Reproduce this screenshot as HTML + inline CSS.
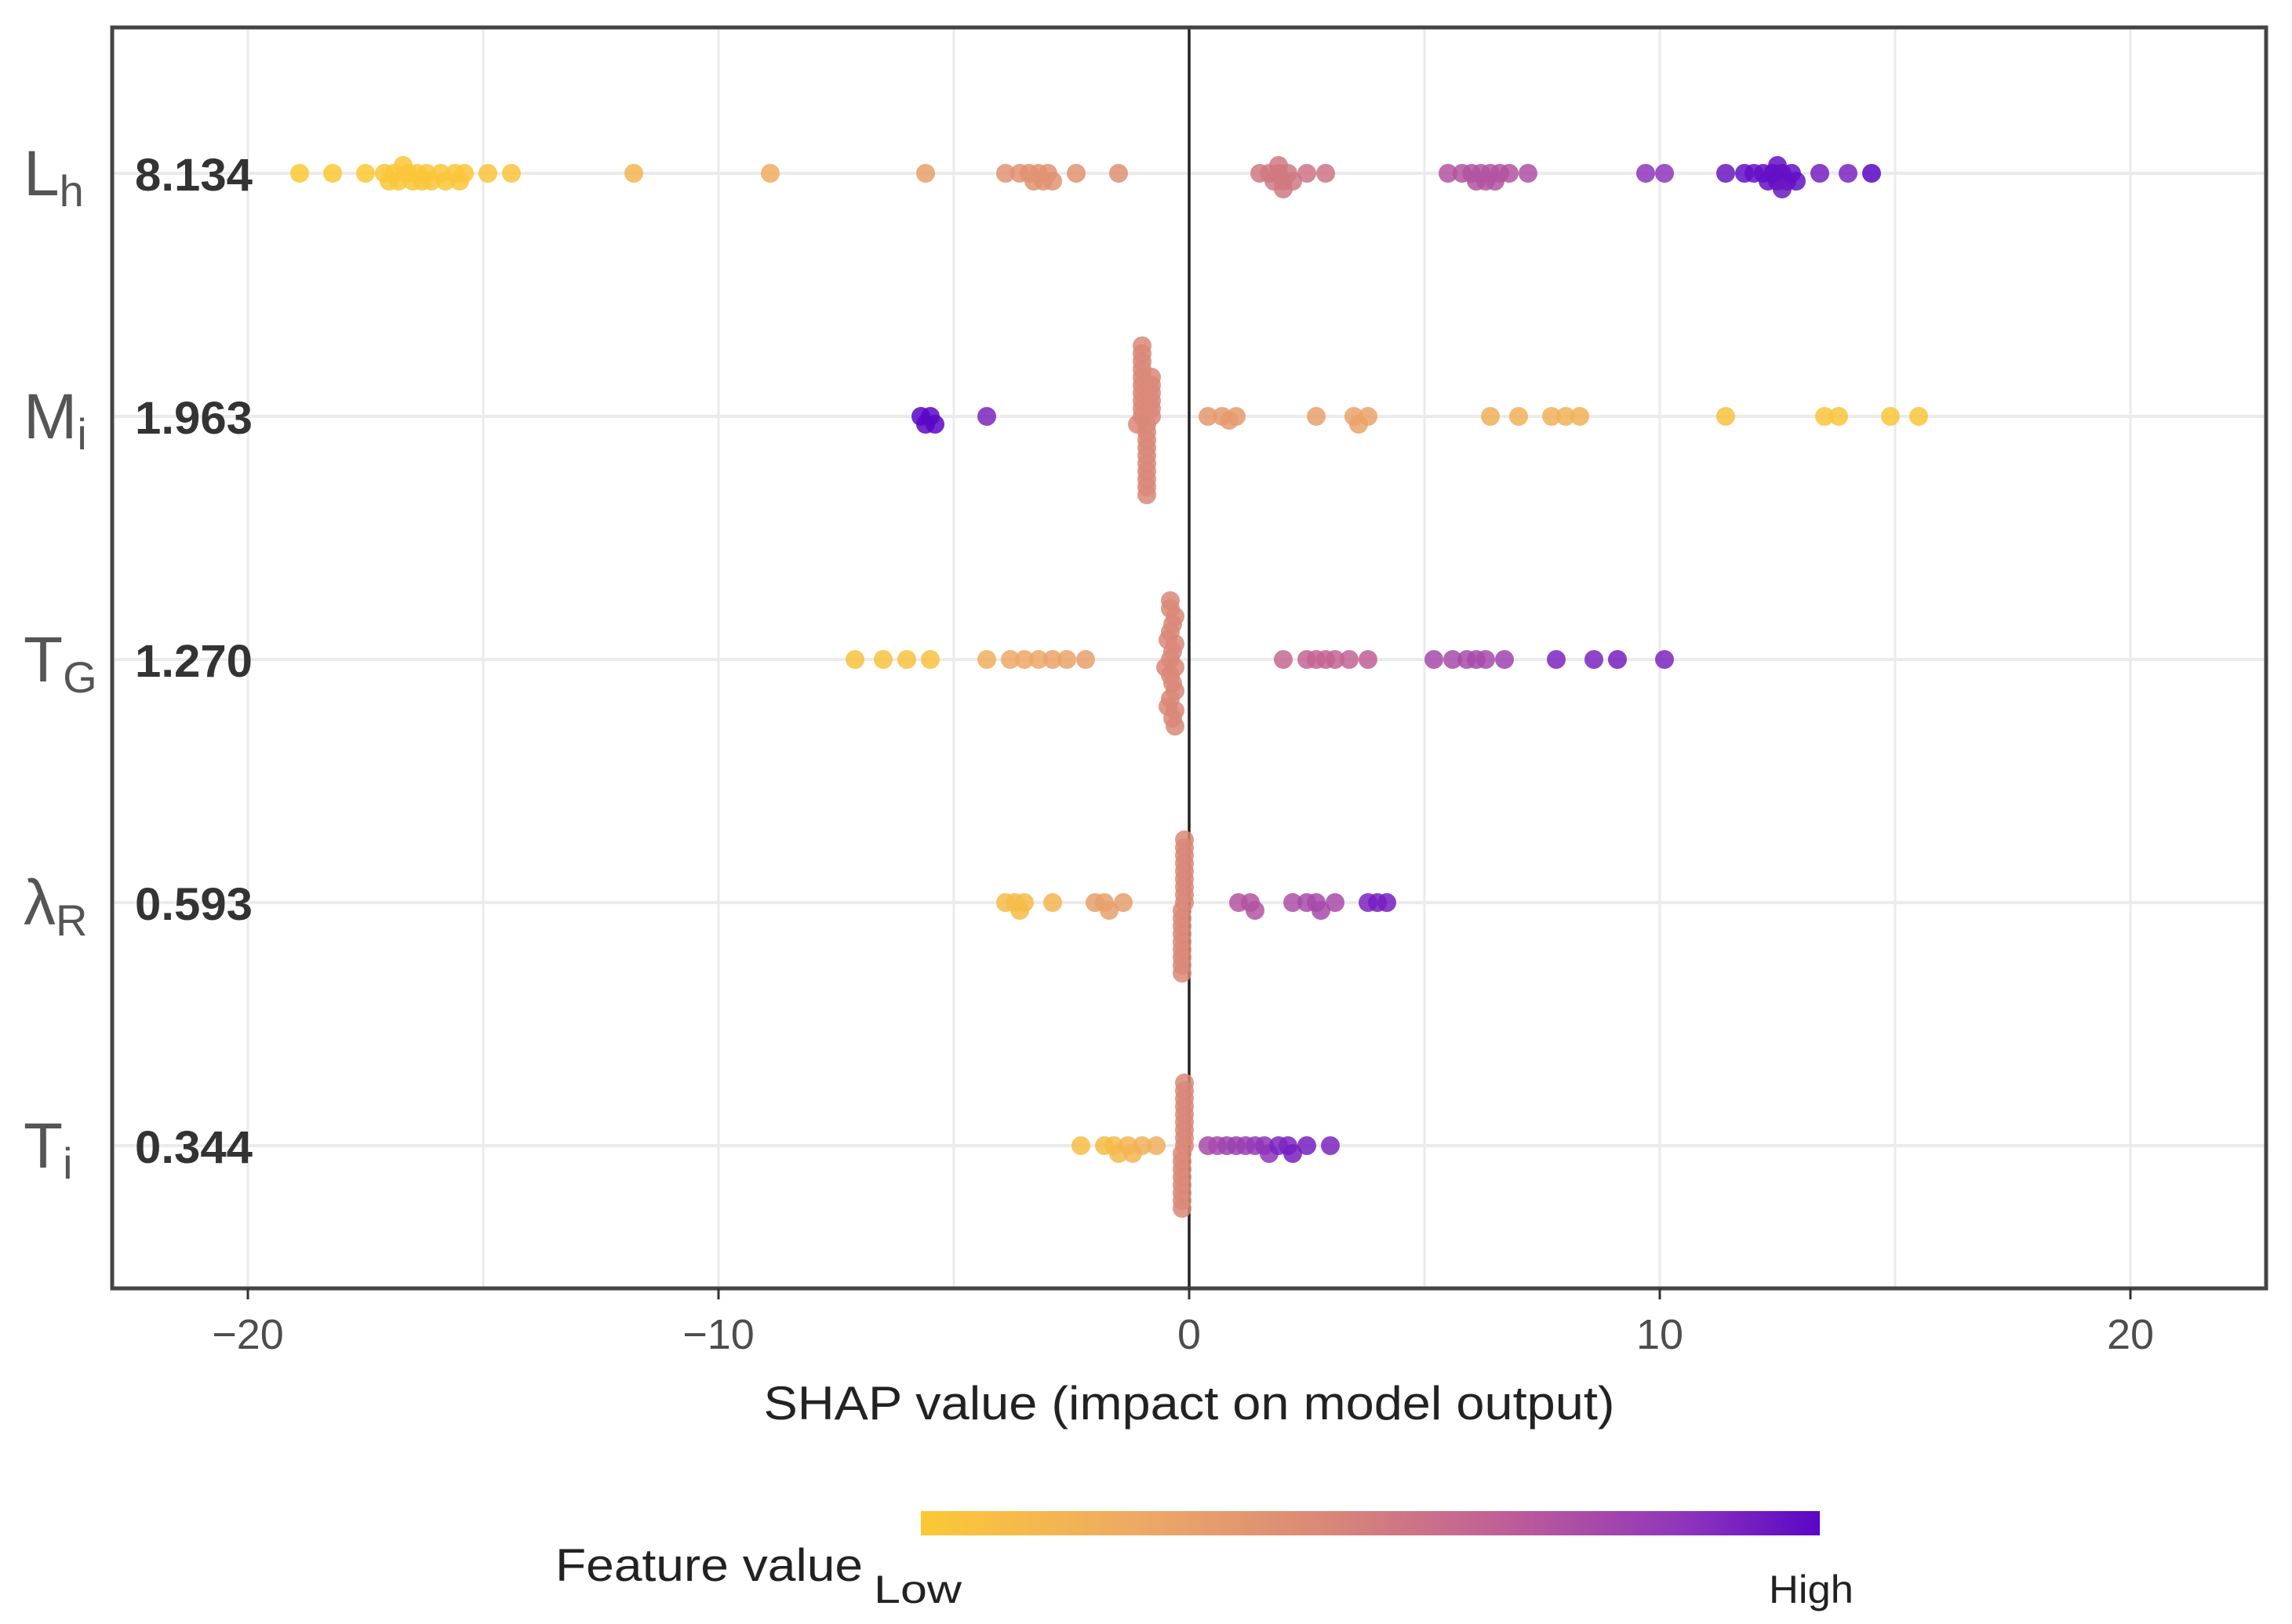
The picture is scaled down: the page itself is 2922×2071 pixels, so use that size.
<!DOCTYPE html>
<html><head><meta charset="utf-8"><style>html,body{margin:0;padding:0;background:#fff}svg{display:block}</style></head>
<body>
<svg id="chart" xmlns="http://www.w3.org/2000/svg" width="2922" height="2071" viewBox="0 0 2922 2071" font-family="'Liberation Sans', sans-serif">
<defs>
<linearGradient id="plasma" x1="0" x2="1" y1="0" y2="0">
<stop offset="0" stop-color="#fbc934"/><stop offset="0.25" stop-color="#eda866"/><stop offset="0.45" stop-color="#d98878"/><stop offset="0.65" stop-color="#bf5e98"/><stop offset="0.85" stop-color="#8e35bb"/><stop offset="1" stop-color="#5a06c6"/>
</linearGradient>
</defs>
<g id="grid"></g>
<g id="points"></g>
<g id="axes"></g>
<text x="1516" y="1810" text-anchor="middle" font-size="60" fill="#222" textLength="1085" lengthAdjust="spacingAndGlyphs">SHAP value (impact on model output)</text>
<g>
<rect x="1174" y="1927" width="1146" height="31" fill="url(#plasma)"/>
<text x="708" y="2016" font-size="58" fill="#222" textLength="392" lengthAdjust="spacingAndGlyphs">Feature value</text>
<text x="1114" y="2044" font-size="50" fill="#222" textLength="112" lengthAdjust="spacingAndGlyphs">Low</text>
<text x="2255" y="2044" font-size="50" fill="#222" textLength="108" lengthAdjust="spacingAndGlyphs">High</text>
</g>
</svg>
<script>
const features = ["L","M","T","λ","T"];
const featureSubs = ["h","i","G","R","i"];
const importance = ["8.134","1.963","1.270","0.593","0.344"];
const xTicks = [-20,-10,0,10,20];
const xTickLabels = ["\u221220","\u221210","0","10","20"];
const xGrid = [-20,-15,-10,-5,0,5,10,15,20];

const lhShap = [-18.9,-18.2,-17.5,-17.1,-16.9,-16.8,-16.6,-16.5,-16.4,-16.2,-16.1,-15.9,-15.8,-15.6,-15.5,-15.4,-17.0,-16.7,-16.3,-14.9,-14.4,-11.8,-8.9,-5.6,-3.9,-3.6,-3.4,-3.3,-3.2,-3.1,-3.0,-2.9,-2.4,-1.5,1.5,1.7,1.8,1.9,2.0,2.1,2.2,1.9,2.0,2.5,2.9,5.5,5.8,6.0,6.1,6.2,6.3,6.4,6.5,6.6,6.8,7.2,9.7,10.1,11.4,11.8,12.0,12.2,12.3,12.4,12.5,12.6,12.7,12.8,12.9,12.5,12.6,13.4,14.0,14.5];
const lhColor = [0,0,0,0.02,0.02,0.02,0.02,0.02,0.02,0.02,0.02,0.02,0.02,0.02,0.02,0.02,0.02,0.02,0.02,0.04,0.04,0.15,0.22,0.3,0.38,0.38,0.38,0.38,0.38,0.38,0.38,0.38,0.38,0.4,0.52,0.52,0.52,0.52,0.52,0.52,0.52,0.52,0.52,0.55,0.55,0.7,0.7,0.7,0.7,0.7,0.7,0.7,0.7,0.7,0.7,0.72,0.85,0.85,0.95,0.97,0.97,0.97,0.97,0.97,0.97,0.97,0.97,0.97,0.97,0.97,0.95,0.92,0.9];
const miShap = [-5.7,-5.6,-5.5,-5.4,-4.3,-1.0,-0.9,-1.1,-0.8,-1.0,-0.9,-0.8,-1.0,-0.9,-1.0,-0.8,-0.9,-1.0,-0.9,-0.8,-1.0,-0.9,-1.0,-0.8,-0.9,-1.0,-0.9,-1.0,-0.8,-0.9,-1.0,-0.9,0.4,0.7,0.85,1.0,2.7,3.5,3.6,3.8,6.4,7.0,7.7,8.0,8.3,11.4,13.5,13.8,14.9,15.5];
const miColor = [1,1,1,1,0.9,0.45,0.45,0.45,0.45,0.45,0.45,0.45,0.45,0.45,0.45,0.45,0.45,0.45,0.45,0.45,0.45,0.45,0.45,0.45,0.45,0.45,0.45,0.45,0.45,0.45,0.45,0.45,0.35,0.33,0.33,0.33,0.3,0.28,0.28,0.28,0.2,0.18,0.18,0.18,0.18,0.05,0.04,0.04,0.03,0.03];
const tgShap = [-7.1,-6.5,-6.0,-5.5,-4.3,-3.8,-3.5,-3.2,-2.9,-2.6,-2.2,-0.4,-0.3,-0.5,-0.35,-0.4,-0.3,-0.45,-0.35,-0.4,-0.3,-0.35,-0.4,-0.3,-0.45,-0.4,-0.3,-0.35,-0.4,-0.3,2.0,2.5,2.7,2.9,3.1,3.4,3.8,5.2,5.6,5.9,6.1,6.3,6.7,7.8,8.6,9.1,10.1];
const tgColor = [0.05,0.05,0.05,0.05,0.2,0.25,0.25,0.25,0.28,0.28,0.3,0.45,0.45,0.45,0.45,0.45,0.45,0.45,0.45,0.45,0.45,0.45,0.45,0.45,0.45,0.45,0.45,0.45,0.45,0.45,0.6,0.62,0.62,0.62,0.62,0.62,0.65,0.75,0.75,0.75,0.75,0.75,0.78,0.9,0.9,0.92,0.9];
const lrShap = [-3.9,-3.7,-3.6,-3.5,-2.9,-2.0,-1.8,-1.7,-1.4,-0.1,-0.15,-0.1,-0.15,-0.1,-0.15,-0.1,-0.15,-0.1,-0.15,-0.1,-0.15,-0.1,-0.15,-0.1,-0.15,-0.1,-0.15,1.05,1.3,1.4,2.2,2.5,2.7,2.8,3.1,3.8,4.0,4.2];
const lrColor = [0.1,0.1,0.1,0.1,0.15,0.3,0.3,0.3,0.32,0.45,0.45,0.45,0.45,0.45,0.45,0.45,0.45,0.45,0.45,0.45,0.45,0.45,0.45,0.45,0.45,0.45,0.45,0.7,0.7,0.7,0.72,0.75,0.75,0.75,0.75,0.9,0.92,0.92];
const tiShap = [-2.3,-1.8,-1.6,-1.5,-1.3,-1.2,-1.0,-0.7,-0.1,-0.15,-0.1,-0.15,-0.1,-0.15,-0.1,-0.15,-0.1,-0.15,-0.1,-0.15,-0.1,-0.15,-0.1,-0.15,-0.1,0.4,0.6,0.8,1.0,1.2,1.4,1.6,1.7,1.9,2.1,2.2,2.5,3.0];
const tiColor = [0.08,0.1,0.1,0.12,0.15,0.15,0.18,0.2,0.45,0.45,0.45,0.45,0.45,0.45,0.45,0.45,0.45,0.45,0.45,0.45,0.45,0.45,0.45,0.45,0.45,0.75,0.75,0.78,0.8,0.8,0.82,0.85,0.85,0.9,0.9,0.92,0.92,0.9];

const shapSeries = [lhShap, miShap, tgShap, lrShap, tiShap];
const colorSeries = [lhColor, miColor, tgColor, lrColor, tiColor];

const NS = "http://www.w3.org/2000/svg";
const L = 143, R = 2889, T = 35, B = 1643;
const X0 = 1516, UNIT = 60.0;
function xScale(v){ return X0 + v*UNIT; }
function yScale(i){ return 221 + i*310; }
const stops = [[0,[251,201,52]],[0.25,[237,168,102]],[0.45,[217,136,120]],[0.65,[191,94,152]],[0.85,[142,53,187]],[1,[90,6,198]]];
function colorAt(t){
  for(let k=1;k<stops.length;k++){ if(t<=stops[k][0]){ const a=stops[k-1],b=stops[k]; const f=(t-a[0])/(b[0]-a[0]); const c=a[1].map((v,j)=>Math.round(v+(b[1][j]-v)*f)); return `rgb(${c[0]},${c[1]},${c[2]})`; } }
  return "rgb(90,6,198)";
}
function mk(tag, attrs, parent){ const e=document.createElementNS(NS,tag); for(const k in attrs) e.setAttribute(k,attrs[k]); parent.appendChild(e); return e; }

const grid = document.getElementById('grid');
const axes = document.getElementById('axes');
const pts = document.getElementById('points');
mk('rect',{x:L,y:T,width:R-L,height:B-T,fill:'#fff'},grid);
xGrid.forEach(v=>{
  const g = mk('line',{x1:xScale(v),x2:xScale(v),y1:T,y2:B,stroke:'#ebebeb','stroke-width':3},grid);
  
  
});
features.forEach((f,i)=>{
  const g = mk('line',{x1:L,x2:R,y1:yScale(i),y2:yScale(i),stroke:'#ebebeb','stroke-width':4},grid);
  
  
});
const zl = mk('line',{x1:xScale(0),x2:xScale(0),y1:T,y2:B,stroke:'#222','stroke-width':3.5},grid);



shapSeries.forEach((arr,i)=>{
  const placed = [];
  const cy0 = yScale(i);
  arr.forEach((v,j)=>{
    const px = xScale(v);
    let off = 0, k = 0;
    while(true){
      off = (k===0)?0:((k%2===1)?1:-1)*Math.ceil(k/2)*5;
      if(!placed.some(p=>Math.hypot(p[0]-px,p[1]-off)<10)) break;
      k++;
    }
    placed.push([px,off]);
    const c = mk('circle',{cx:px,cy:cy0+off,r:12,fill:colorAt(colorSeries[i][j]),'fill-opacity':0.85},pts);
    
    
  });
});

const border = mk('rect',{x:L,y:T,width:R-L,height:B-T,fill:'none',stroke:'#444','stroke-width':5},axes);


xTicks.forEach((v,k)=>{
  const t = mk('line',{x1:xScale(v),x2:xScale(v),y1:B,y2:B+14,stroke:'#333','stroke-width':3},axes);
  
  
  const lb = mk('text',{x:xScale(v),y:1720,'text-anchor':'middle','font-size':54,fill:'#4d4d4d'},axes);
  lb.textContent = xTickLabels[k];
  
  
});
features.forEach((f,i)=>{
  const y = yScale(i);
  const name = mk('text',{x:30,y:y+28,'font-size':82,fill:'#555'},axes);
  
  
  const m = document.createElementNS(NS,'tspan'); m.textContent=f; name.appendChild(m);
  const s = document.createElementNS(NS,'tspan'); s.textContent=featureSubs[i]; s.setAttribute('font-size','56'); s.setAttribute('dy','14'); name.appendChild(s);
  const imp = mk('text',{x:322,y:y+22,'text-anchor':'end','font-size':58,'font-weight':'bold',fill:'#333',textLength:150,lengthAdjust:'spacingAndGlyphs'},axes);
  imp.textContent = importance[i];
  
  
});
</script>
</body></html>
